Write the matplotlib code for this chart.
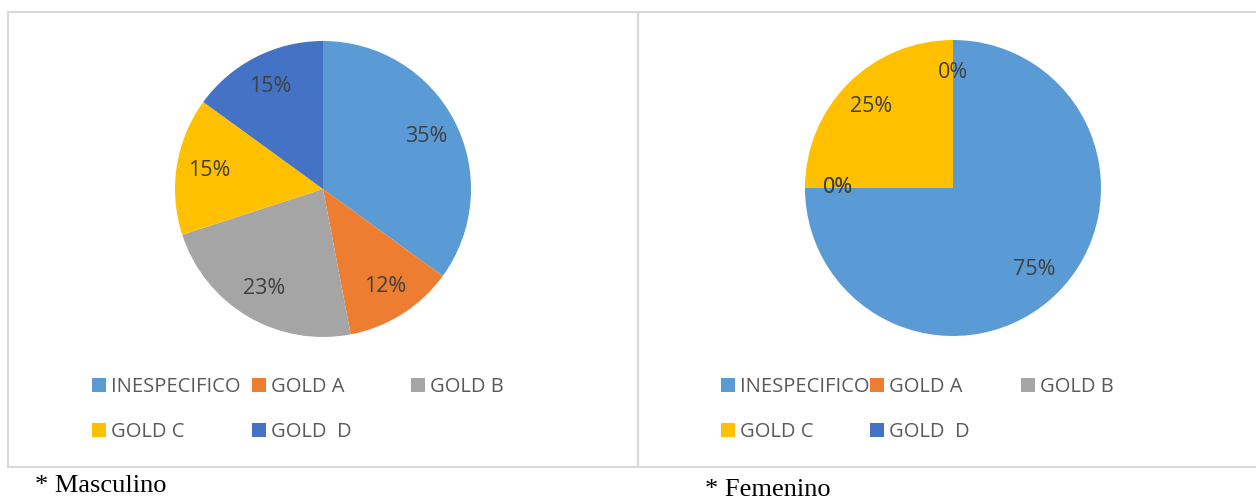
import matplotlib
matplotlib.use("Agg")
import matplotlib.pyplot as plt
from matplotlib.patches import Rectangle

W, H = 1256, 499

categories = ["INESPECIFICO", "GOLD A", "GOLD B", "GOLD C", "GOLD  D"]
masculino = [35, 12, 23, 15, 15]
femenino = [75, 0, 0, 25, 0]
colors = ["#5B9BD5", "#ED7D31", "#A5A5A5", "#FFC000", "#4472C4"]

plt.rcParams["font.family"] = ["Open Sans", "DejaVu Sans"]

fig = plt.figure(figsize=(W / 100, H / 100), dpi=100)

# boxes around the two charts
box = dict(fill=False, edgecolor="#D9D9D9", linewidth=1.5, transform=fig.transFigure)
fig.patches.append(Rectangle((8 / W, 1 - 467 / H), 630 / W, 455.5 / H, **box))
fig.patches.append(Rectangle((638 / W, 1 - 467 / H), 640 / W, 455.5 / H, **box))


def draw_pie(values, cx, cy, r, leg_x, leg_rows):
    ax = fig.add_axes([(cx - r) / W, 1 - (cy + r) / H, 2 * r / W, 2 * r / H])
    wedges, texts, autotexts = ax.pie(
        values, colors=colors, startangle=90, counterclock=False,
        autopct=lambda p: f"{p:.0f}%", pctdistance=0.78,
        wedgeprops=dict(linewidth=0),
        textprops=dict(color="#404040", fontsize=15.5),
    )
    ax.set_xlim(-1, 1)
    ax.set_ylim(-1, 1)
    ax.set_aspect("equal")
    ax.axis("off")
    for i, (w, name) in enumerate(zip(wedges, categories)):
        x = leg_x[i % 3]
        y = leg_rows[i // 3]
        fig.legend([w], [name], loc="center left",
                   bbox_to_anchor=(x / W, 1 - y / H),
                   frameon=False, borderpad=0, borderaxespad=0,
                   handlelength=0.7, handleheight=0.7, handletextpad=0.25,
                   prop=dict(size=14.5), labelcolor="#595959")


draw_pie(masculino, 323, 189, 148, [92, 252, 411], [387, 432])
draw_pie(femenino, 953, 188, 148, [721, 870, 1021], [387, 432])

fig.text(35 / W, 1 - 492 / H, "* Masculino", family="Liberation Serif",
         fontsize=19, va="baseline", ha="left")
fig.text(705 / W, 1 - 496.5 / H, "* Femenino", family="Liberation Serif",
         fontsize=19, va="baseline", ha="left")

fig.savefig("out.png", dpi=100)
plt.close(fig)
